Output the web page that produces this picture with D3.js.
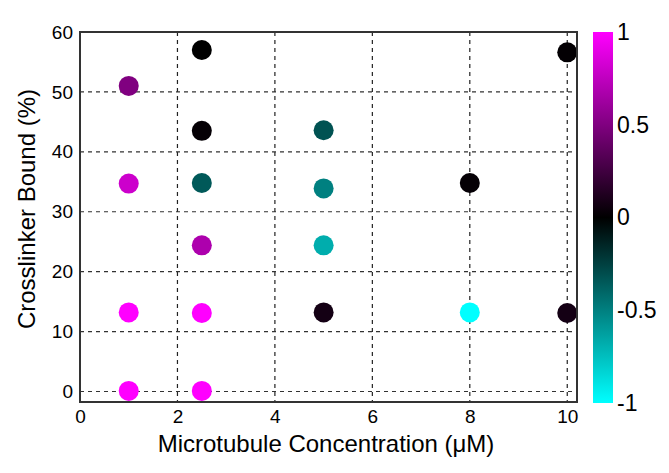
<!DOCTYPE html>
<html>
<head>
<meta charset="utf-8">
<script src="https://cdn.jsdelivr.net/npm/d3@7"></script>
<style>
  body { margin: 0; background: #fff; }
  text { font-family: "Liberation Sans", Arial, sans-serif; fill: #000; }
</style>
</head>
<body>
<div id="chart"></div>
<script>
// Data
const concentration = [1, 1, 1, 1, 2.5, 2.5, 2.5, 2.5, 2.5, 2.5, 5, 5, 5, 5, 8, 8, 10, 10];
const bound = [51, 34.7, 13.2, 0.1, 57, 43.5, 34.8, 24.4, 13.1, 0.1, 43.6, 33.9, 24.4, 13.2, 34.8, 13.2, 56.6, 13.1];
const value = [0.5, 0.8, 1, 1, 0, 0.02, -0.35, 0.68, 1, 1, -0.32, -0.5, -0.68, 0.08, 0.02, -1, 0.01, 0.08];
const xTicks = [0, 2, 4, 6, 8, 10];
const yTicks = [0, 10, 20, 30, 40, 50, 60];
const cbTicks = [-1, -0.5, 0, 0.5, 1];

const width = 669, height = 473;
const plot = { left: 80, right: 577, top: 32, bottom: 402 };

const svg = d3.select("#chart").append("svg")
  .attr("width", width)
  .attr("height", height);

const x = d3.scaleLinear().domain([0, 10.2]).range([plot.left, plot.right]);
const y = d3.scaleLinear().domain([-1.75, 60]).range([plot.bottom, plot.top]);
const color = d3.scaleLinear().domain([-1, 0, 1]).range(["#00ffff", "#000000", "#ff00ff"]);

// grid
const grid = svg.append("g");
grid.selectAll(".vg").data(xTicks.filter(d => d > 0)).enter().append("line")
  .attr("x1", d => x(d)).attr("x2", d => x(d))
  .attr("y1", plot.top).attr("y2", plot.bottom)
  .attr("stroke", "#222").attr("stroke-width", 1.2).attr("stroke-dasharray", "4,4");
grid.selectAll(".hg").data(yTicks.filter(d => d < 60)).enter().append("line")
  .attr("x1", plot.left).attr("x2", plot.right)
  .attr("y1", d => y(d)).attr("y2", d => y(d))
  .attr("stroke", "#333").attr("stroke-width", 1.2).attr("stroke-dasharray", "4,4");

// axes (labels only, no tick marks)
const xAxis = svg.append("g")
  .attr("transform", `translate(0,${plot.bottom})`)
  .call(d3.axisBottom(x).tickValues(xTicks).tickSize(0).tickPadding(8));
xAxis.select(".domain").remove();
xAxis.selectAll("text").style("font-size", "19px").attr("font-family", null);

const yAxis = svg.append("g")
  .attr("transform", `translate(${plot.left},0)`)
  .call(d3.axisLeft(y).tickValues(yTicks).tickSize(0).tickPadding(7));
yAxis.select(".domain").remove();
yAxis.selectAll("text").style("font-size", "19px").attr("font-family", null);

// points
svg.append("g").selectAll("circle")
  .data(concentration.map((c, i) => ({ c, b: bound[i], v: value[i] })))
  .enter().append("circle")
  .attr("cx", d => x(d.c))
  .attr("cy", d => y(d.b))
  .attr("r", 10)
  .attr("fill", d => color(d.v));

// frame
svg.append("rect")
  .attr("x", plot.left).attr("y", plot.top)
  .attr("width", plot.right - plot.left).attr("height", plot.bottom - plot.top)
  .attr("fill", "none").attr("stroke", "#333").attr("stroke-width", 2);

// axis titles
svg.append("text")
  .attr("x", 326).attr("y", 452)
  .attr("text-anchor", "middle")
  .style("font-size", "24px")
  .text("Microtubule Concentration (\u03bcM)");

svg.append("text")
  .attr("transform", `translate(35,${(plot.top + plot.bottom) / 2 - 8}) rotate(-90)`)
  .attr("text-anchor", "middle")
  .style("font-size", "24px")
  .text("Crosslinker Bound (%)");

// colorbar
const cb = { x: 593, w: 20, top: 32, bottom: 403 };
const cbScale = d3.scaleLinear().domain([-1, 1]).range([cb.bottom, cb.top]);
const defs = svg.append("defs");
const grad = defs.append("linearGradient")
  .attr("id", "cbgrad").attr("x1", 0).attr("y1", 1).attr("x2", 0).attr("y2", 0);
grad.selectAll("stop").data(d3.range(-1, 1.01, 0.25)).enter().append("stop")
  .attr("offset", d => (d + 1) / 2)
  .attr("stop-color", d => color(d));
svg.append("rect")
  .attr("x", cb.x).attr("y", cb.top)
  .attr("width", cb.w).attr("height", cb.bottom - cb.top)
  .attr("fill", "url(#cbgrad)");

const cbAxis = svg.append("g")
  .attr("transform", `translate(${cb.x + cb.w},0)`)
  .call(d3.axisRight(cbScale).tickValues(cbTicks).tickSize(0).tickPadding(4)
    .tickFormat(d => d === -1 ? "-1" : d === -0.5 ? "-0.5" : String(d)));
cbAxis.select(".domain").remove();
cbAxis.selectAll("text").style("font-size", "23px").attr("font-family", null);
</script>
</body>
</html>
